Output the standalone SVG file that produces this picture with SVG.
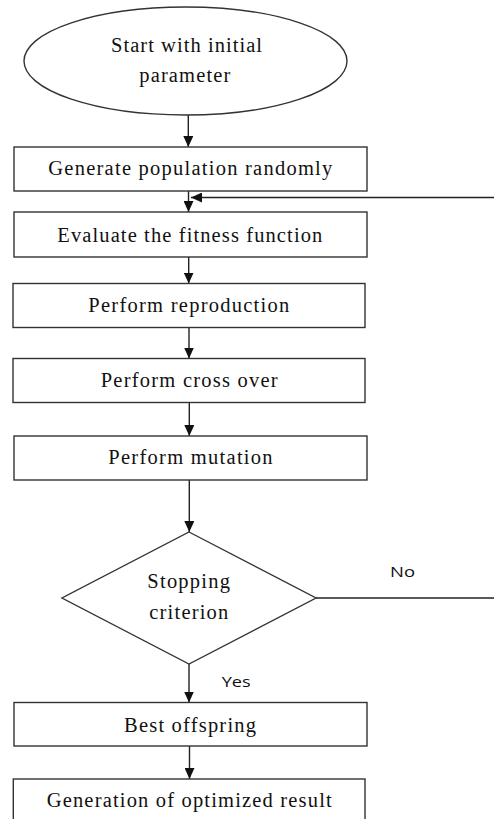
<svg xmlns="http://www.w3.org/2000/svg" width="494" height="819" viewBox="0 0 494 819">
<defs>
<marker id="ah" markerUnits="userSpaceOnUse" markerWidth="11" markerHeight="10" refX="11" refY="5" orient="auto">
<path d="M0,0 L11,5 L0,10 z" fill="#111"/>
</marker>
<style>
.box{fill:#fff;stroke:#333;stroke-width:1.4}
.t{font-family:'Liberation Serif','DejaVu Serif',serif;font-size:20.5px;fill:#111}
.s{font-family:'Open Sans','Liberation Sans',sans-serif;font-size:15px;fill:#111}
.c{fill:none;stroke:#222;stroke-width:1.4}
</style>
</defs>
<rect width="494" height="819" fill="#fff"/>
<g id="connectors">
<line class="c" x1="188.3" y1="115" x2="188.3" y2="147" marker-end="url(#ah)"/>
<line class="c" x1="188.5" y1="191" x2="188.5" y2="212" marker-end="url(#ah)"/>
<line class="c" x1="494" y1="197.5" x2="191" y2="197.5" marker-end="url(#ah)"/>
<line class="c" x1="188.7" y1="257" x2="188.7" y2="283.5" marker-end="url(#ah)"/>
<line class="c" x1="189" y1="327" x2="189" y2="358.5" marker-end="url(#ah)"/>
<line class="c" x1="189.3" y1="402" x2="189.3" y2="436" marker-end="url(#ah)"/>
<line class="c" x1="189.3" y1="480" x2="189.3" y2="532" marker-end="url(#ah)"/>
<line class="c" x1="316" y1="598" x2="494" y2="598"/>
<line class="c" x1="189" y1="664" x2="189" y2="702.5" marker-end="url(#ah)"/>
<line class="c" x1="189.5" y1="746" x2="189.5" y2="779" marker-end="url(#ah)"/>
<text class="s" x="390" y="577" textLength="25" lengthAdjust="spacingAndGlyphs">No</text>
<text class="s" x="221.7" y="687" textLength="29" lengthAdjust="spacingAndGlyphs">Yes</text>
</g>
<g id="start">
<ellipse cx="185.5" cy="61" rx="161.5" ry="54" class="box"/>
<text class="t" x="111" y="52" textLength="151" lengthAdjust="spacing">Start with initial</text>
<text class="t" x="139.3" y="82" textLength="91" lengthAdjust="spacing">parameter</text>
</g>
<g id="generate">
<rect x="14" y="147" width="353" height="44" class="box"/>
<text class="t" x="48.3" y="174.5" textLength="284" lengthAdjust="spacing">Generate population randomly</text>
</g>
<g id="evaluate">
<rect x="14" y="212" width="353" height="45" class="box"/>
<text class="t" x="57.3" y="241.5" textLength="265" lengthAdjust="spacing">Evaluate the fitness function</text>
</g>
<g id="reproduction">
<rect x="13" y="283.5" width="352" height="44" class="box"/>
<text class="t" x="88.3" y="312" textLength="201" lengthAdjust="spacing">Perform reproduction</text>
</g>
<g id="crossover">
<rect x="13" y="358.5" width="352" height="44" class="box"/>
<text class="t" x="100.7" y="386.5" textLength="177" lengthAdjust="spacing">Perform cross over</text>
</g>
<g id="mutation">
<rect x="14" y="436" width="353" height="44" class="box"/>
<text class="t" x="108.3" y="464" textLength="164.3" lengthAdjust="spacing">Perform mutation</text>
</g>
<g id="stopping">
<polygon points="189,532 316,598 189,664 62,598" class="box"/>
<text class="t" x="147.3" y="588" textLength="82.7" lengthAdjust="spacing">Stopping</text>
<text class="t" x="149.3" y="618.7" textLength="79" lengthAdjust="spacing">criterion</text>
</g>
<g id="best">
<rect x="14" y="702.5" width="353" height="43.5" class="box"/>
<text class="t" x="124" y="731.5" textLength="132" lengthAdjust="spacing">Best offspring</text>
</g>
<g id="result">
<rect x="13.3" y="779" width="351.7" height="60" class="box"/>
<text class="t" x="46.7" y="806.5" textLength="285" lengthAdjust="spacing">Generation of optimized result</text>
</g>
</svg>
